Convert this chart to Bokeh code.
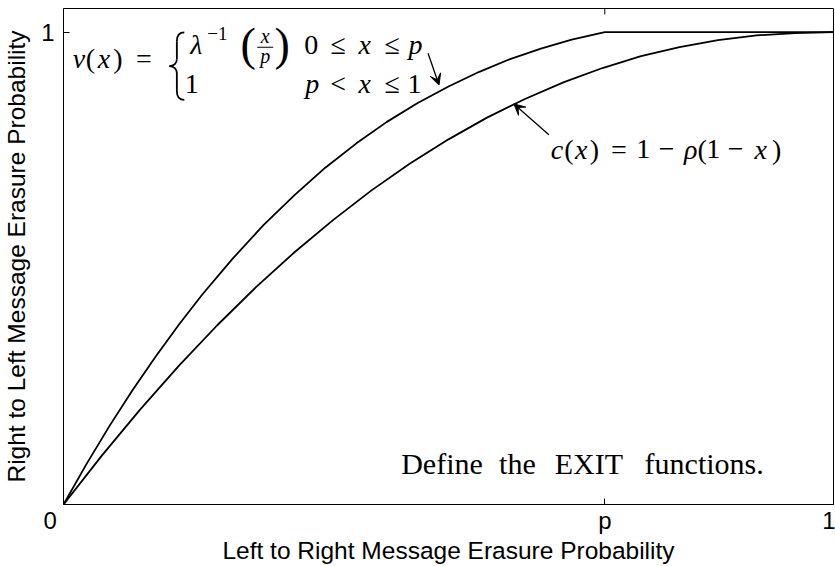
from bokeh.plotting import figure
from bokeh.models import Range1d, FixedTicker, Label, Arrow, VeeHead
from bokeh.embed import file_html
from bokeh.resources import INLINE

# threshold parameter p (where v(x) reaches 1)
p_val = 0.703

# v(x): variable-node side EXIT curve
v_x = [0.0, 0.03, 0.06, 0.09, 0.12, 0.15, 0.18, 0.22, 0.26, 0.30, 0.34,
       0.38, 0.42, 0.46, 0.50, 0.54, 0.58, 0.62, 0.66, 0.703, 1.0]
v_y = [0.0, 0.086, 0.167, 0.243, 0.314, 0.381, 0.444, 0.521, 0.592, 0.655, 0.713,
       0.764, 0.810, 0.850, 0.885, 0.916, 0.943, 0.965, 0.984, 1.0, 1.0]

# c(x): check-node side EXIT curve
c_x = [0.0, 0.05, 0.10, 0.15, 0.20, 0.25, 0.30, 0.35, 0.40, 0.45, 0.50,
       0.55, 0.60, 0.65, 0.70, 0.75, 0.80, 0.85, 0.90, 0.95, 1.0]
c_y = [0.0, 0.104, 0.202, 0.294, 0.380, 0.460, 0.534, 0.602, 0.665, 0.722, 0.773,
       0.819, 0.859, 0.894, 0.924, 0.949, 0.968, 0.983, 0.993, 0.998, 1.0]

x_ticks = [0.0, p_val, 1.0]
# the origin label sits left of the corner; padded with no-break spaces
x_tick_labels = ["0\u00a0\u00a0\u00a0\u00a0", "p", "1"]
y_ticks = [1.0]
y_tick_labels = ["1"]

W, H = 835, 566
FRAME_L, FRAME_R, FRAME_T, FRAME_B = 62, 833, 8, 507
X0, X1, Y0, Y1 = 0.0, 1.0, 0.0, 1.05

SANS = "Liberation Sans"
SERIF = "Liberation Serif"

fig = figure(width=W, height=H, x_range=Range1d(X0, X1), y_range=Range1d(Y0, Y1),
             output_backend="svg", toolbar_location=None,
             min_border_left=FRAME_L, min_border_right=W - FRAME_R,
             min_border_top=FRAME_T, min_border_bottom=H - FRAME_B)
fig.background_fill_color = "white"
fig.border_fill_color = "white"
fig.xgrid.visible = False
fig.ygrid.visible = False
fig.outline_line_color = "black"
fig.outline_line_width = 1
fig.outline_line_alpha = 1

# bottom / left axes with inward ticks
fig.xaxis.ticker = FixedTicker(ticks=x_ticks)
fig.xaxis.major_label_overrides = dict(zip(x_ticks, x_tick_labels))
fig.yaxis.ticker = FixedTicker(ticks=y_ticks)
fig.yaxis.major_label_overrides = dict(zip(y_ticks, y_tick_labels))
for ax in (fig.xaxis[0], fig.yaxis[0]):
    ax.axis_line_color = None
    ax.major_tick_in = 6
    ax.major_tick_out = 0
    ax.minor_tick_line_color = None
    ax.major_tick_line_color = "black"
    ax.major_label_text_font = SANS
    ax.major_label_text_font_size = "24px"
    ax.major_label_text_color = "black"
    ax.axis_label_text_font = SANS
    ax.axis_label_text_font_size = "24.5px"
    ax.axis_label_text_font_style = "normal"
    ax.axis_label_text_color = "black"
fig.xaxis.axis_label = "Left to Right Message Erasure Probability"
fig.yaxis.axis_label = "Right to Left Message Erasure Probability"
fig.xaxis.major_label_standoff = 2
fig.xaxis.axis_label_standoff = 0
fig.yaxis.major_label_standoff = 9
fig.yaxis.axis_label_standoff = 8

# the two EXIT curves
fig.line(v_x, v_y, line_color="black", line_width=1.8)
fig.line(c_x, c_y, line_color="black", line_width=1.8)

PX_X = (X1 - X0) / (FRAME_R - FRAME_L)   # data units per pixel
PX_Y = (Y1 - Y0) / (FRAME_B - FRAME_T)


def at(px, py):
    """Canvas pixel position -> data coordinates of the plot frame."""
    return X0 + (px - FRAME_L) * PX_X, Y0 + (FRAME_B - py) * PX_Y


def seg(x0, y0, x1, y1, width=1.2, head=False):
    end = VeeHead(size=11, fill_color="black", line_color="black") if head else None
    fig.add_layout(Arrow(x_start=x0, y_start=y0, x_end=x1, y_end=y1, end=end,
                         line_color="black", line_width=width))


def rule(px0, py0, px1, py1, width=1.2, head=False):
    x0, y0 = at(px0, py0)
    x1, y1 = at(px1, py1)
    seg(x0, y0, x1, y1, width, head)


def tex(text, px, py, size=28, italic=False, font=SERIF, align="center"):
    # py is the wanted baseline; the label anchor sits ~0.3 em under it
    x, y = at(px, py - 0.3 * size)
    fig.add_layout(Label(x=x, y=y, text=text, text_font=font,
                         text_font_size=f"{size}px",
                         text_font_style="italic" if italic else "normal",
                         text_align=align, text_baseline="alphabetic",
                         text_color="black"))


# mirrored inward ticks on the top and right edges of the box
seg(p_val, Y1, p_val, Y1 - 6 * PX_Y, width=1)
seg(X1, 1.0, X1 - 6 * PX_X, 1.0, width=1)

# v(x) = { lambda^-1 (x/p)   0 <= x <= p
#        { 1                 p <  x <= 1
for text, px, it in [("v", 77.5, True), ("(", 89, False), ("x", 102.5, True),
                     (")", 116.5, False), ("=", 142.5, False)]:
    tex(text, px, 67, italic=it)

# left brace of the cases
brace = [((183, 32), (178, 32), (175.5, 35), (175.5, 41)),
         ((175.5, 41), (175.5, 47), (175.5, 53), (175.5, 59)),
         ((175.5, 59), (175.5, 63), (172.5, 66), (168, 66)),
         ((168, 66), (172.5, 66), (175.5, 69), (175.5, 73)),
         ((175.5, 73), (175.5, 79), (175.5, 85), (175.5, 91)),
         ((175.5, 91), (175.5, 97), (178, 100), (183, 100))]
bz = {k: [] for k in ("x0", "y0", "cx0", "cy0", "cx1", "cy1", "x1", "y1")}
for p0, q0, q1, p1 in brace:
    for key, pt in (("0", p0), ("1", p1)):
        x, y = at(*pt)
        bz["x" + key].append(x)
        bz["y" + key].append(y)
    for key, pt in (("cx0", q0), ("cx1", q1)):
        x, y = at(*pt)
        bz[key].append(x)
        bz["cy" + key[-1]].append(y)
fig.bezier(line_color="black", line_width=1.8, **bz)

tex("λ", 195, 53, italic=True)
tex("−1", 216, 39, size=19)
tex("(", 247, 58, size=46)
tex("x", 264, 42, size=20, italic=True)
rule(256, 47, 272, 47, width=1.2)
tex("p", 264, 62, size=20, italic=True)
tex(")", 281, 58, size=46)
for text, px, it in [("0", 310, False), ("≤", 337, False), ("x", 363.5, True),
                     ("≤", 391, False), ("p", 414.5, True)]:
    tex(text, px, 53, italic=it)
tex("1", 190.5, 92)
for text, px, it in [("p", 311, True), ("<", 337, False), ("x", 363.5, True),
                     ("≤", 391, False), ("1", 413.5, False)]:
    tex(text, px, 92, italic=it)

# c(x) = 1 - rho(1 - x)
for text, px, it in [("c", 556, True), ("(", 568, False), ("x", 580.5, True),
                     (")", 593.5, False), ("=", 618, False), ("1", 642.5, False),
                     ("−", 666, False), ("ρ", 690, True), ("(", 701.5, False),
                     ("1", 712.5, False), ("−", 735, False), ("x", 760, True),
                     (")", 776, False)]:
    tex(text, px, 158, italic=it)

# arrows pointing at each curve
rule(427, 53, 438, 85, width=1.3, head=True)
rule(548, 135, 513, 104, width=1.3, head=True)

# caption
for text, px in [("Define", 441), ("the", 516.5), ("EXIT", 588), ("functions.", 703.5)]:
    tex(text, px, 475, size=30)

open("out.html", "w").write(file_html(fig, INLINE))
